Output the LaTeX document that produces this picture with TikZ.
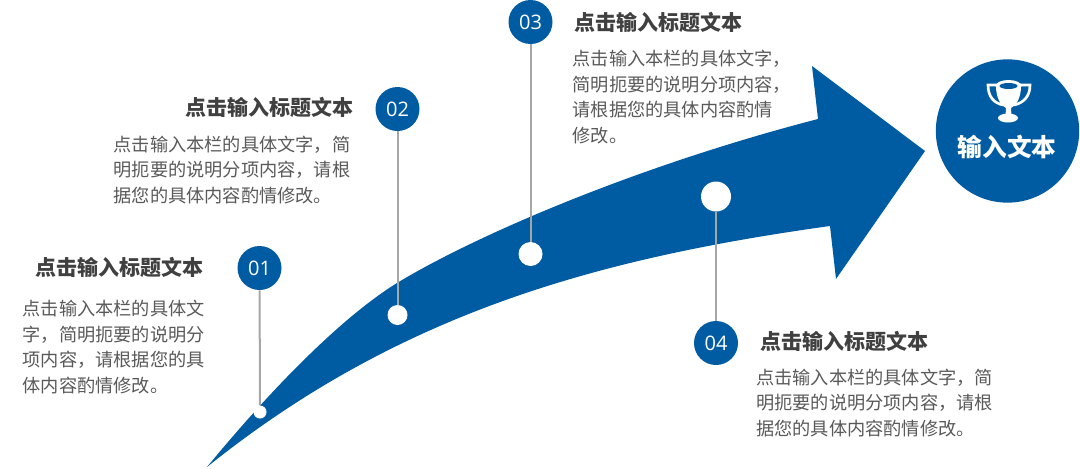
\documentclass[tikz,border=0pt]{standalone}
\usepackage{fontspec}
\usepackage{xcolor}
\setmainfont{Noto Sans CJK SC}
\newfontfamily\numfont{Open Sans}
\definecolor{mainblue}{HTML}{005CA2}
\definecolor{titlegray}{HTML}{404040}
\definecolor{bodygray}{HTML}{595959}
\definecolor{linegray}{HTML}{A6A6A6}

\begin{document}
\begin{tikzpicture}[
    x=0.75pt,
    y=-0.75pt,
    numcircle/.style={circle, fill=mainblue, text=white, minimum size=33pt, inner sep=0pt, font=\numfont\fontsize{15}{18}\selectfont},
    dot/.style={circle, fill=white, inner sep=0pt},
    title/.style={text=titlegray, inner sep=0pt, font=\fontsize{15.75}{19}\bfseries\selectfont},
    body/.style={text=bodygray, anchor=west, align=left, inner sep=0pt, font=\fontsize{13.65}{19.1}\selectfont},
    stem/.style={draw=linegray, line width=1.5pt},
]
\useasboundingbox (0,0) rectangle (1080,468);

% Arrow
\fill[mainblue] (207,467)
    .. controls (272,388) and (342,317) .. (397,283)
    .. controls (478,234) and (640,165) .. (818,119)
    -- (812,66) -- (925,151) -- (836,279) -- (830,226)
    .. controls (600,258) and (400,312) .. (207,467) -- cycle;

% Big circle and trophy
\node[circle, fill=mainblue, minimum size=107.5pt, inner sep=0pt] (goal) at (1007.5,131) {};
\draw[white, line width=2pt] (997,85) -- (988,85) .. controls (988,97) and (994,103) .. (1003,105);
\draw[white, line width=2pt] (1020,85) -- (1030,85) .. controls (1030,97) and (1023,103) .. (1014,105);
\fill[white] (996,86) .. controls (996,98) and (1001,106) .. (1006,108) -- (1005.5,116)
    -- (1011.5,116) -- (1011,108)
    .. controls (1016,106) and (1021,98) .. (1021,86) -- cycle;
\fill[white] (1008.5,86) ellipse (13 and 6);
\fill[mainblue] (1008.5,86) ellipse (9 and 3);
\fill[white] (1008,118) ellipse (10 and 4.5);
\node[text=white, inner sep=0pt, font=\fontsize{18.5}{22}\bfseries\selectfont] (goaltext) at (1007,147) {输入文本};

% White dots on the arrow
\node[dot, minimum size=9.75pt] (dot1) at (260,412) {};
\node[dot, minimum size=15pt] (dot2) at (397.5,315) {};
\node[dot, minimum size=18pt] (dot3) at (530.5,254) {};
\node[dot, minimum size=22.5pt] (dot4) at (716,196.5) {};

% Numbers
\node[numcircle] (num1) at (259.5,268) {01};
\node[numcircle] (num2) at (397.5,109) {02};
\node[numcircle] (num3) at (530.5,22) {03};
\node[numcircle] (num4) at (716,343) {04};

% Lines
\draw[stem] (num1) -- (dot1);
\draw[stem] (num2) -- (dot2);
\draw[stem] (num3) -- (dot3);
\draw[stem] (num4) -- (dot4);

% Titles
\node[title, anchor=east] (title1) at (204,267) {点击输入标题文本};
\node[title, anchor=east] (title2) at (353.5,107) {点击输入标题文本};
\node[title, anchor=west] (title3) at (574,22) {点击输入标题文本};
\node[title, anchor=west] (title4) at (760,341) {点击输入标题文本};

% Body text
\node[body] (body1) at (22.5,347) {点击输入本栏的具体文\\字，简明扼要的说明分\\项内容，请根据您的具\\体内容酌情修改。};
\node[body] (body2) at (113.5,170) {点击输入本栏的具体文字，简\\明扼要的说明分项内容，请根\\据您的具体内容酌情修改。};
\node[body] (body3) at (572.5,97) {点击输入本栏的具体文字，\\简明扼要的说明分项内容，\\请根据您的具体内容酌情\\修改。};
\node[body] (body4) at (756,403) {点击输入本栏的具体文字，简\\明扼要的说明分项内容，请根\\据您的具体内容酌情修改。};

\end{tikzpicture}
\end{document}
